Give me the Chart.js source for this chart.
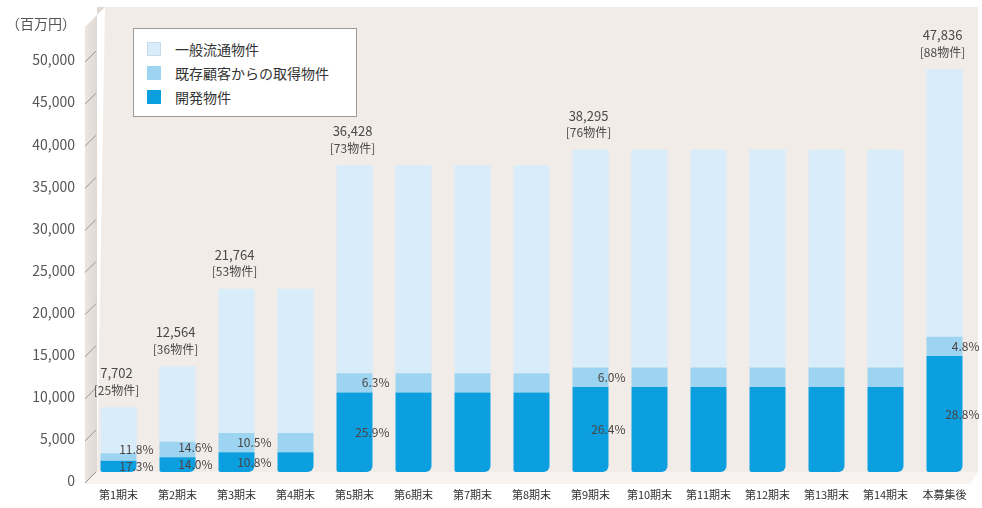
<!DOCTYPE html>
<html lang="ja">
<head>
<meta charset="utf-8">
<script src="https://cdn.jsdelivr.net/npm/chart.js@4/dist/chart.umd.min.js"></script>
<style>
  html, body { margin: 0; padding: 0; background: #ffffff; }
  #wrap { position: relative; width: 982px; height: 508px; }
  #unit { position: absolute; left: 6px; top: 13px; font: 14px "Noto Sans CJK JP", sans-serif; color: #555; }
  #legend { position: absolute; left: 133px; top: 28px; width: 224px; height: 89px; box-sizing: border-box;
            background: #ffffff; border: 1px solid #9a9a9a; padding: 8px 0 0 13px;
            font: 14px "Noto Sans CJK JP", sans-serif; color: #333; }
  #legend div { height: 24px; line-height: 24px; display: flex; align-items: center; }
  #legend span.sw { display: inline-block; width: 14px; height: 14px; margin-right: 14px; box-sizing: border-box; }
</style>
</head>
<body>
<div id="wrap">
  <canvas id="c" width="982" height="508"></canvas>
  <div id="unit">（百万円）</div>
  <div id="legend"></div>
</div>
<script>
// Period labels along the horizontal axis
const categories = ['第1期末','第2期末','第3期末','第4期末','第5期末','第6期末','第7期末','第8期末',
                    '第9期末','第10期末','第11期末','第12期末','第13期末','第14期末','本募集後'];
// Portfolio total (百万円) at each period
const totalValues = [7702, 12564, 21764, 21764, 36428, 36428, 36428, 36428,
                     38295, 38295, 38295, 38295, 38295, 38295, 47836];
// Number of properties at each period
const propertyCounts = [25, 36, 53, 53, 73, 73, 73, 73, 76, 76, 76, 76, 76, 76, 88];
// Share of the total (%) held by developed properties
const developShare = [17.3, 14.0, 10.8, 10.8, 25.9, 25.9, 25.9, 25.9,
                      26.4, 26.4, 26.4, 26.4, 26.4, 26.4, 28.8];
// Share of the total (%) acquired from existing clients
const acquiredShare = [11.8, 14.6, 10.5, 10.5, 6.3, 6.3, 6.3, 6.3,
                       6.0, 6.0, 6.0, 6.0, 6.0, 6.0, 4.8];
// Bars that carry value annotations
const annotated = [true, true, true, false, true, false, false, false,
                   true, false, false, false, false, false, true];
const seriesNames = ['開発物件', '既存顧客からの取得物件', '一般流通物件'];

// Segment values in 百万円, built from the totals and the stated shares
const developValues = totalValues.map((t, i) => t * developShare[i] / 100);
const acquiredValues = totalValues.map((t, i) => t * acquiredShare[i] / 100);
const generalValues = totalValues.map((t, i) => t - developValues[i] - acquiredValues[i]);

const colors = ['#0c9fe0', '#9dd4f1', '#d8ecfa'];
const FONT = '"Noto Sans CJK JP", "Noto Sans", sans-serif';

// Legend box (top entry first, as stacked)
const legendEl = document.getElementById('legend');
[2, 1, 0].forEach(k => {
  const row = document.createElement('div');
  const sw = document.createElement('span');
  sw.className = 'sw';
  sw.style.background = colors[k];
  if (k === 2) sw.style.border = '1px solid #c4dcee';
  row.appendChild(sw);
  row.appendChild(document.createTextNode(seriesNames[k]));
  legendEl.appendChild(row);
});

// Back wall, left side wall and floor behind the bars
const stagePlugin = {
  id: 'stage',
  beforeDatasetsDraw(chart) {
    const { ctx, chartArea: a, scales } = chart;
    const L = a.left - 6;
    ctx.save();
    // back wall
    ctx.fillStyle = '#f1ece8';
    ctx.beginPath();
    ctx.moveTo(L + 22, 7);
    ctx.lineTo(a.right + 4, 7);
    ctx.lineTo(a.right + 4, a.bottom);
    ctx.lineTo(L + 14, a.bottom);
    ctx.closePath();
    ctx.fill();
    // left wall
    const g = ctx.createLinearGradient(L, 0, L + 14, 0);
    g.addColorStop(0, '#ede7e2');
    g.addColorStop(1, '#e0d9d3');
    ctx.fillStyle = g;
    ctx.beginPath();
    ctx.moveTo(L + 2, 27);
    ctx.lineTo(L + 22, 7);
    ctx.lineTo(L + 14, 7);
    ctx.lineTo(L + 14, a.bottom);
    ctx.lineTo(L + 2, a.bottom + 12);
    ctx.closePath();
    ctx.fill();
    // floor
    ctx.fillStyle = '#f8f2f1';
    ctx.beginPath();
    ctx.moveTo(L + 2, a.bottom + 12);
    ctx.lineTo(L + 14, a.bottom);
    ctx.lineTo(a.right + 4, a.bottom);
    ctx.lineTo(a.right - 4, a.bottom + 12);
    ctx.closePath();
    ctx.fill();
    // slanted tick marks on the left wall
    ctx.strokeStyle = '#9a9490';
    ctx.lineWidth = 1;
    scales.y.ticks.forEach(t => {
      const y = scales.y.getPixelForValue(t.value);
      ctx.beginPath();
      ctx.moveTo(L + 2, y + 11);
      ctx.lineTo(L + 13, y);
      ctx.stroke();
    });
    ctx.restore();
  }
};

// Totals, property counts and share labels
const annotatePlugin = {
  id: 'annotate',
  afterDatasetsDraw(chart) {
    const { ctx } = chart;
    const dev = chart.getDatasetMeta(0).data;
    const acq = chart.getDatasetMeta(1).data;
    const gen = chart.getDatasetMeta(2).data;
    ctx.save();
    ctx.textBaseline = 'middle';
    categories.forEach((c, i) => {
      if (!annotated[i]) return;
      const top = gen[i];
      ctx.fillStyle = '#4a4a4a';
      ctx.font = '13px ' + FONT;
      ctx.textAlign = 'center';
      ctx.fillText(totalValues[i].toLocaleString('en-US'), top.x - 2, top.y - 34);
      ctx.font = '12px ' + FONT;
      ctx.fillText('[' + propertyCounts[i] + '物件]', top.x - 2, top.y - 17);

      const right = dev[i].x + dev[i].width / 2 + 17;
      const dy = (dev[i].y + dev[i].base) / 2;
      let ay = (acq[i].y + acq[i].base) / 2;
      if (ay > dy - 17) ay = dy - 17;
      ctx.textAlign = 'right';
      ctx.font = '12px ' + FONT;
      ctx.fillStyle = '#4a4444';
      ctx.fillText(developShare[i].toFixed(1) + '%', right, dy);
      ctx.fillText(acquiredShare[i].toFixed(1) + '%', right, ay);
    });
    ctx.restore();
  }
};

new Chart(document.getElementById('c'), {
  type: 'bar',
  data: {
    labels: categories,
    datasets: [
      { label: seriesNames[0], data: developValues, backgroundColor: colors[0],
        borderRadius: { topLeft: 0, topRight: 0, bottomLeft: 2, bottomRight: 6 }, borderSkipped: false },
      { label: seriesNames[1], data: acquiredValues, backgroundColor: colors[1] },
      { label: seriesNames[2], data: generalValues, backgroundColor: colors[2] }
    ]
  },
  options: {
    responsive: false,
    animation: false,
    layout: { padding: { top: 9, right: 8, left: 0, bottom: 0 } },
    datasets: { bar: { categoryPercentage: 1, barPercentage: 0.61 } },
    plugins: { legend: { display: false }, tooltip: { enabled: false } },
    scales: {
      x: {
        stacked: true,
        grid: { display: false, drawTicks: false },
        border: { display: false },
        ticks: { font: { family: FONT, size: 11 }, color: '#333', padding: 16, maxRotation: 0 },
        afterFit(s) { s.height = 36; s.paddingLeft = 0; s.paddingRight = 0; }
      },
      y: {
        stacked: true,
        min: 0,
        max: 55000,
        grid: { display: false, drawTicks: false },
        border: { display: false },
        ticks: {
          stepSize: 5000,
          padding: 14,
          labelOffset: 9,
          font: { family: FONT, size: 14 },
          color: '#555',
          callback: v => v.toLocaleString('en-US')
        },
        afterBuildTicks(s) { s.ticks = s.ticks.filter(t => t.value <= 50000); },
        afterFit(s) { s.width = 89; s.paddingTop = 0; s.paddingBottom = 0; }
      }
    }
  },
  plugins: [stagePlugin, annotatePlugin]
});
</script>
</body>
</html>
